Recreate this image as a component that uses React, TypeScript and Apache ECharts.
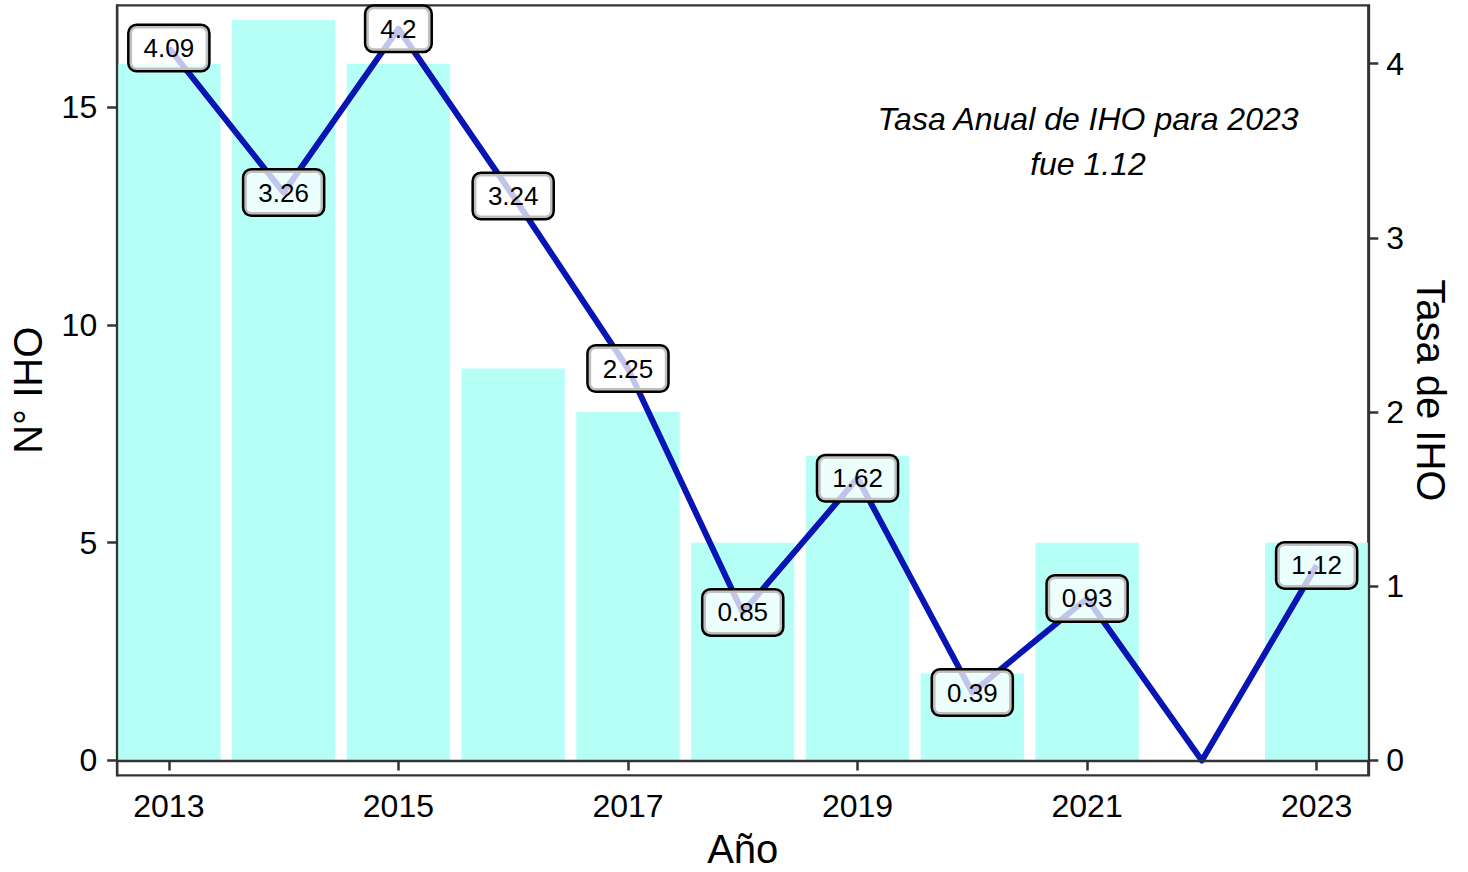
import React, { useEffect, useRef } from "react";
import * as echarts from "echarts";

const years = [2013, 2014, 2015, 2016, 2017, 2018, 2019, 2020, 2021, 2022, 2023];
const ihoCount = [16, 17, 16, 9, 8, 5, 7, 2, 5, 0, 5];
const ihoRate = [4.09, 3.26, 4.2, 3.24, 2.25, 0.85, 1.62, 0.39, 0.93, 0, 1.12];
const xTickValues = [2013, 2015, 2017, 2019, 2021, 2023];
const leftTickValues = [0, 5, 10, 15];
const rightTickValues = [0, 1, 2, 3, 4];
const annotationLines = ["Tasa Anual de IHO para 2023", "fue 1.12"];

const W = 1468;
const H = 872;
const GRID_LEFT = 117.2;
const GRID_RIGHT = 99.7;
const GRID_TOP = 5.3;
const GRID_BOTTOM = 96.7;
const X_MIN = 2012.55;
const X_MAX = 2023.45;
const Y_MIN = -0.34;
const Y_MAX = 17.34;
const FONT = "'Liberation Sans', Arial, Helvetica, sans-serif";
const AXIS_COLOR = "#333333";

export default function App() {
  const ref = useRef<HTMLDivElement>(null);

  useEffect(() => {
    if (!ref.current) return;
    const chart = echarts.init(ref.current, null, { renderer: "svg" });
    const plotW = W - GRID_LEFT - GRID_RIGHT;
    const barWidth = (plotW / (X_MAX - X_MIN)) * 0.9;

    const axisCommon = {
      splitLine: { show: false },
      axisLine: { show: true, lineStyle: { color: AXIS_COLOR, width: 2.3 } },
      axisTick: { show: true, length: 10, lineStyle: { color: AXIS_COLOR, width: 2.5 } },
      z: 5,
    };

    chart.setOption({
      animation: false,
      backgroundColor: "#ffffff",
      textStyle: { fontFamily: FONT },
      grid: {
        left: GRID_LEFT,
        right: GRID_RIGHT,
        top: GRID_TOP,
        bottom: GRID_BOTTOM,
        show: true,
        borderColor: AXIS_COLOR,
        borderWidth: 2.3,
        backgroundColor: "transparent",
        containLabel: false,
        outerBoundsMode: "none",
      },
      xAxis: {
        type: "value",
        min: X_MIN,
        max: X_MAX,
        ...axisCommon,
        axisTick: { ...axisCommon.axisTick, customValues: xTickValues },
        axisLabel: {
          customValues: xTickValues,
          fontSize: 32,
          color: "#000",
          fontFamily: FONT,
          margin: 15,
          formatter: (v: number) => String(v),
        },
        name: "Año",
        nameLocation: "middle",
        nameGap: 54,
        nameTextStyle: { fontSize: 40, color: "#000", fontFamily: FONT },
      },
      yAxis: [
        {
          type: "value",
          min: Y_MIN,
          max: Y_MAX,
          position: "left",
          ...axisCommon,
          axisTick: { ...axisCommon.axisTick, customValues: leftTickValues },
          axisLabel: {
            customValues: leftTickValues,
            fontSize: 32,
            color: "#000",
            fontFamily: FONT,
            margin: 20,
          },
        },
        {
          type: "value",
          min: Y_MIN / 4,
          max: Y_MAX / 4,
          position: "right",
          ...axisCommon,
          axisTick: { ...axisCommon.axisTick, customValues: rightTickValues },
          axisLabel: {
            customValues: rightTickValues,
            fontSize: 32,
            color: "#000",
            fontFamily: FONT,
            margin: 18,
          },
        },
      ],
      series: [
        {
          type: "bar",
          yAxisIndex: 0,
          barWidth,
          itemStyle: { color: "#B5FFF7" },
          data: years.map((y, i) => [y, ihoCount[i]]),
          z: 1,
        },
        {
          type: "line",
          yAxisIndex: 1,
          symbol: "circle",
          symbolSize: 1,
          itemStyle: { color: "#0814B4" },
          lineStyle: { color: "#0814B4", width: 6, join: "round" },
          z: 3,
          label: {
            show: true,
            position: "inside",
            fontSize: 26,
            lineHeight: 26,
            color: "#000",
            fontFamily: FONT,
            backgroundColor: "rgba(255,255,255,0.75)",
            borderColor: "#000",
            borderWidth: 2.5,
            borderRadius: 7,
            padding: [9, 14],
            formatter: (p: any) => String(p.value[1]),
          },
          data: years.map((y, i) =>
            ihoRate[i] === 0
              ? { value: [y, ihoRate[i]], label: { show: false } }
              : { value: [y, ihoRate[i]] }
          ),
        },
      ],
      graphic: [
        {
          type: "text",
          x: 28,
          y: GRID_TOP + (H - GRID_TOP - GRID_BOTTOM) / 2,
          rotation: Math.PI / 2,
          style: {
            text: "N° IHO",
            fontSize: 40,
            fontFamily: FONT,
            fill: "#000",
            textAlign: "center",
            textVerticalAlign: "middle",
          },
        },
        {
          type: "text",
          x: 1431,
          y: GRID_TOP + (H - GRID_TOP - GRID_BOTTOM) / 2,
          rotation: -Math.PI / 2,
          style: {
            text: "Tasa de IHO",
            fontSize: 40,
            fontFamily: FONT,
            fill: "#000",
            textAlign: "center",
            textVerticalAlign: "middle",
          },
        },
        {
          type: "text",
          x: 1088,
          y: 141.5,
          style: {
            text: annotationLines.join("\n"),
            fontSize: 32,
            fontStyle: "italic",
            fontFamily: FONT,
            lineHeight: 45,
            fill: "#000",
            textAlign: "center",
            textVerticalAlign: "middle",
          },
        },
      ],
    });

    return () => chart.dispose();
  }, []);

  return (
    <div
      ref={ref}
      style={{ position: "fixed", left: 0, top: 0, width: W, height: H }}
    />
  );
}
